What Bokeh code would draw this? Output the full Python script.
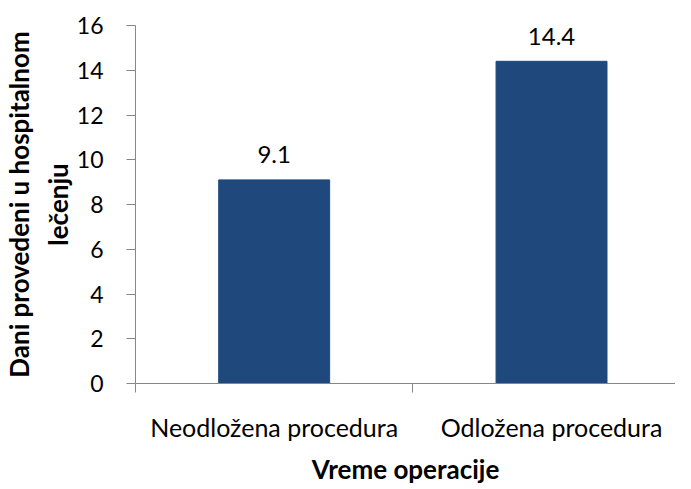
from bokeh.plotting import figure
from bokeh.models import FixedTicker, ColumnDataSource, Range1d
from bokeh.embed import file_html
from bokeh.resources import INLINE
from bokeh.core.properties import value

categories = ["Neodložena procedura", "Odložena procedura"]
days = [9.1, 14.4]
y_ticks = [0, 2, 4, 6, 8, 10, 12, 14, 16]

xs = [i + 0.5 for i in range(len(categories))]
src = ColumnDataSource(dict(x=xs, top=days, lab=[f"{d:.1f}" for d in days]))

p = figure(width=675, height=489, output_backend="svg", toolbar_location=None,
           x_range=Range1d(0, 1.947), y_range=Range1d(0, 16),
           min_border_left=128, min_border_right=0, min_border_top=25, min_border_bottom=106)
p.outline_line_color = None
p.grid.visible = False
p.background_fill_color = "white"

p.vbar(x="x", top="top", width=0.40, source=src, color="#1F497D")
p.text(x="x", y="top", text="lab", source=src, text_align="center", text_baseline="alphabetic",
       y_offset=-25, text_font=value("Lato"), text_font_size="24px", text_color="#000000")

p.xaxis.ticker = FixedTicker(ticks=xs, minor_ticks=[0, 1, 2])
p.xaxis.major_label_overrides = {xs[i]: categories[i] for i in range(len(categories))}
p.xaxis.major_tick_out = 0
p.xaxis.major_tick_in = 0
p.xaxis.minor_tick_out = 9
p.xaxis.minor_tick_in = 0
p.xaxis.minor_tick_line_color = "#868686"
p.xaxis.axis_line_color = "#868686"
p.xaxis.major_label_standoff = 19
p.xaxis.major_label_text_font = "Lato"
p.xaxis.major_label_text_font_size = "25px"
p.xaxis.major_label_text_color = "#000000"
p.xaxis.axis_label = "Vreme operacije"
p.xaxis.axis_label_text_font = "Lato"
p.xaxis.axis_label_text_font_style = "bold"
p.xaxis.axis_label_text_font_size = "26px"
p.xaxis.axis_label_text_color = "#000000"
p.xaxis.axis_label_standoff = 8

p.yaxis.ticker = FixedTicker(ticks=y_ticks, minor_ticks=[])
p.yaxis.major_tick_out = 9
p.yaxis.major_tick_in = 0
p.yaxis.major_tick_line_color = "#868686"
p.yaxis.axis_line_color = "#868686"
p.yaxis.major_label_text_font = "Lato"
p.yaxis.major_label_text_font_size = "23px"
p.yaxis.major_label_text_color = "#000000"
p.yaxis.major_label_standoff = 23
p.yaxis.axis_label = "Dani provedeni u hospitalnom\nlečenju"
p.yaxis.axis_label_text_font = "Lato"
p.yaxis.axis_label_text_font_style = "bold"
p.yaxis.axis_label_text_font_size = "26px"
p.yaxis.axis_label_text_color = "#000000"
p.yaxis.axis_label_standoff = 0

open("out.html", "w").write(file_html(p, INLINE))
